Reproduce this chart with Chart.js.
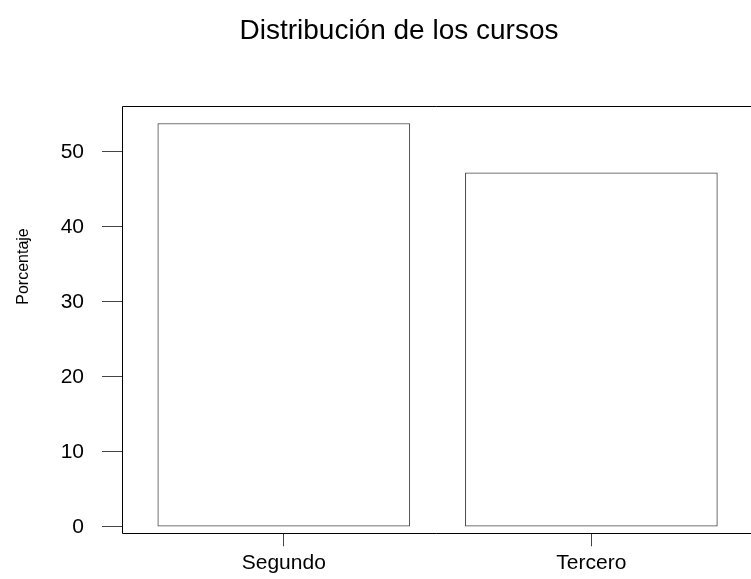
<!DOCTYPE html>
<html>
<head>
    <meta charset="utf-8">
    <title>Distribución de los cursos</title>
    <script src="https://cdn.jsdelivr.net/npm/chart.js"></script>
    <style>
        body {
            margin: 0;
            background: #ffffff;
        }
        #wrap {
            width: 751px;
            height: 579px;
        }
    </style>
</head>
<body>

<div id="wrap">
    <canvas id="barChart" width="751" height="579"></canvas>
</div>

<script>
    // data
    const categories = ["Segundo", "Tercero"];
    const percentages = [53.8, 47.2];
    const yTicks = [0, 10, 20, 30, 40, 50];
    const chartTitle = "Distribución de los cursos";
    const yTitle = "Porcentaje";

    const FONT = "'Liberation Sans', Arial, sans-serif";

    // draws the title, y label and the R-style box round the plot
    const framePlugin = {
        id: 'frame',
        afterDraw(chart) {
            const ctx = chart.ctx;
            const area = chart.chartArea;
            ctx.save();

            ctx.strokeStyle = '#000000';
            ctx.lineWidth = 1;
            ctx.beginPath();
            ctx.moveTo(chart.width, Math.round(area.top) + 0.5);
            ctx.lineTo(Math.round(area.left) + 0.5, Math.round(area.top) + 0.5);
            ctx.lineTo(Math.round(area.left) + 0.5, Math.round(area.bottom) + 0.5);
            ctx.lineTo(chart.width, Math.round(area.bottom) + 0.5);
            ctx.stroke();

            ctx.fillStyle = '#000000';
            ctx.font = '28px ' + FONT;
            ctx.textAlign = 'center';
            ctx.textBaseline = 'alphabetic';
            ctx.fillText(chartTitle, 399, 39);

            ctx.translate(24, 266.5);
            ctx.rotate(-Math.PI / 2);
            ctx.font = '16px ' + FONT;
            ctx.textBaseline = 'middle';
            ctx.fillText(yTitle, 0, 0);
            ctx.restore();
        }
    };

    const ctx = document.getElementById("barChart").getContext("2d");
    new Chart(ctx, {
        type: 'bar',
        data: {
            datasets: [{
                data: categories.map((c, i) => ({ x: i, y: percentages[i] })),
                backgroundColor: '#ffffff',
                borderColor: '#444444',
                borderWidth: 1,
                borderSkipped: false,
                barThickness: 252
            }]
        },
        options: {
            responsive: false,
            animation: false,
            layout: {
                padding: { top: 106, left: 0, right: 0, bottom: 0 }
            },
            plugins: {
                legend: { display: false },
                tooltip: { enabled: false },
                title: { display: false }
            },
            scales: {
                x: {
                    type: 'linear',
                    offset: false,
                    min: -0.526,
                    max: 1.519,
                    afterBuildTicks(scale) {
                        scale.ticks = categories.map((c, i) => ({ value: i }));
                    },
                    afterFit(scale) {
                        scale.height = 45.7;
                    },
                    ticks: {
                        callback: (v) => categories[v],
                        color: '#000000',
                        font: { family: FONT, size: 21 },
                        padding: 4,
                        maxRotation: 0
                    },
                    grid: {
                        offset: false,
                        drawOnChartArea: false,
                        drawTicks: true,
                        tickLength: 13,
                        color: '#444444'
                    },
                    border: { display: false }
                },
                y: {
                    min: -0.88,
                    max: 56.13,
                    afterBuildTicks(scale) {
                        scale.ticks = yTicks.map(v => ({ value: v }));
                    },
                    afterFit(scale) {
                        scale.width = 122;
                    },
                    ticks: {
                        color: '#000000',
                        font: { family: FONT, size: 21 },
                        padding: 18
                    },
                    grid: {
                        drawOnChartArea: false,
                        drawTicks: true,
                        tickLength: 20,
                        color: '#444444'
                    },
                    border: { display: false }
                }
            }
        },
        plugins: [framePlugin]
    });
</script>

</body>
</html>
